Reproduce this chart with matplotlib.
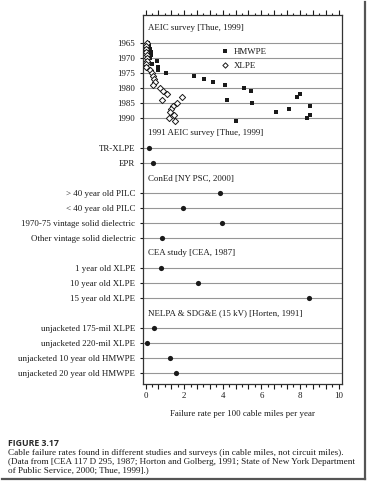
import numpy as np
import matplotlib
matplotlib.use("Agg")
import matplotlib.pyplot as plt
from matplotlib.lines import Line2D
from matplotlib.ticker import FixedLocator, FuncFormatter

plt.rcParams['font.family'] = ['Liberation Serif', 'DejaVu Serif']

# AEIC survey, failure rate by year of installation
years = np.arange(1965, 1992)
hmwpe = [0.15, 0.2, 0.25, 0.28, 0.3, 0.25, 0.61, 0.32, 0.66, 0.66, 1.06, 2.5, 3.03,
         3.5, 4.12, 5.12, 5.47, 8.0, 7.87, 4.2, 5.53, 8.52, 7.45, 6.74, 8.52, 8.35, 4.69]
xlpe = [0.08, 0.05, 0.03, 0.05, 0.07, 0.1, 0.06, 0.03, 0.02, 0.23, 0.32, 0.4, 0.44,
        0.49, 0.4, 0.75, 0.89, 1.13, 1.9, 0.84, 1.65, 1.44, 1.3, 1.27, 1.49, 1.2, 1.53]
year_labels = [1965, 1970, 1975, 1980, 1985, 1990]

aeic_title = "AEIC survey [Thue, 1999]"
group_titles = ["1991 AEIC survey [Thue, 1999]",
                "ConEd [NY PSC, 2000]",
                "CEA study [CEA, 1987]",
                "NELPA & SDG&E (15 kV) [Horten, 1991]"]
group_labels = [["TR-XLPE", "EPR"],
                ["> 40 year old PILC", "< 40 year old PILC",
                 "1970-75 vintage solid dielectric", "Other vintage solid dielectric"],
                ["1 year old XLPE", "10 year old XLPE", "15 year old XLPE"],
                ["unjacketed 175-mil XLPE", "unjacketed 220-mil XLPE",
                 "unjacketed 10 year old HMWPE", "unjacketed 20 year old HMWPE"]]
group_rates = [[0.18, 0.4],
               [3.86, 1.96, 3.98, 0.84],
               [0.79, 2.72, 8.49],
               [0.44, 0.09, 1.27, 1.58]]

# one row = 5 years in the survey part
def year_row(y):
    return (np.asarray(y) - 1965) / 5.0

W, H = 368, 484
fig = plt.figure(figsize=(W / 100, H / 100), dpi=100)
ax = fig.add_axes([143 / W, 1 - 384 / H, 199 / W, 369 / H])

ink = '#1a1a1a'
grid = '#969696'
fs = 6.4

tick_rows = list(year_row(year_labels))
tick_text = [str(y) for y in year_labels]
title_rows = []
dot_rows, dot_x = [], []
r = year_row(year_labels[-1])
for title, labels, rates in zip(group_titles, group_labels, group_rates):
    r += 1
    title_rows.append(r)
    for lab, val in zip(labels, rates):
        r += 1
        tick_rows.append(r)
        tick_text.append(lab)
        dot_rows.append(r)
        dot_x.append(val)

for tr in tick_rows:
    ax.axhline(tr, color=grid, lw=0.8, zorder=1)

ax.scatter(hmwpe, year_row(years), marker='s', s=10, color=ink, lw=0, zorder=3, label='HMWPE')
ax.scatter(xlpe, year_row(years), marker='D', s=10, facecolor='white', edgecolor=ink,
           lw=0.7, zorder=3, label='XLPE')
ax.scatter(dot_x, dot_rows, marker='o', s=14, color=ink, lw=0, zorder=3)

ax.text(0.13, -1.0, aeic_title, fontsize=fs, color=ink, va='center', ha='left')
for tr, title in zip(title_rows, group_titles):
    ax.text(0.13, tr, title, fontsize=fs, color=ink, va='center', ha='left')

leg = ax.legend(loc='upper left', bbox_to_anchor=(0.391, 0.912), frameon=False,
                fontsize=fs, handlelength=1.0, handletextpad=0.5, borderpad=0,
                borderaxespad=0, labelspacing=0.65, scatterpoints=1, markerscale=0.85)
for t in leg.get_texts():
    t.set_color(ink)

ax.set_xlim(-0.13, 10.18)
ax.set_ylim(22.7, -1.89)

major = np.arange(0, 10.01, 2 / 3)
minor = np.arange(1 / 3, 10.01, 2 / 3)
ax.xaxis.set_major_locator(FixedLocator(major))
ax.xaxis.set_minor_locator(FixedLocator(minor))
ax.xaxis.set_major_formatter(FuncFormatter(
    lambda v, p: "%d" % round(v) if abs(v - round(v)) < 1e-6 and round(v) % 2 == 0 else ""))
ax.tick_params(axis='x', which='major', direction='out', length=3.5, width=0.8,
               top=True, labelsize=fs, colors=ink, pad=2.5)
ax.tick_params(axis='x', which='minor', direction='out', length=1.8, width=0.8, top=True,
               colors=ink)

ax.set_yticks(tick_rows)
ax.set_yticklabels(tick_text)
ax.tick_params(axis='y', direction='out', length=2.5, width=0.8, labelsize=fs,
               colors=ink, pad=3)

for s in ax.spines.values():
    s.set_linewidth(0.9)
    s.set_color('#333333')

ax.set_xlabel("Failure rate per 100 cable miles per year", fontsize=fs, color=ink,
              labelpad=7)

fig.text(8 / W, 1 - 443 / H, "FIGURE 3.17", fontsize=6.3, weight='bold',
         family=['Open Sans', 'DejaVu Sans'], color='#2a2a2a', va='center')
caption = ["Cable failure rates found in different studies and surveys (in cable miles, not circuit miles).",
           "(Data from [CEA 117 D 295, 1987; Horton and Golberg, 1991; State of New York Department",
           "of Public Service, 2000; Thue, 1999].)"]
for i, line in enumerate(caption):
    fig.text(8 / W, 1 - (453 + 8.7 * i) / H, line, fontsize=6.6, color=ink, va='center')

# page shadow at right and bottom
fig.add_artist(Line2D([365 / W, 365 / W], [1 - 479 / H, 1 - 2 / H],
                      transform=fig.transFigure, color='#555555', lw=1.6))
fig.add_artist(Line2D([2 / W, 365 / W], [1 - 479 / H, 1 - 479 / H],
                      transform=fig.transFigure, color='#555555', lw=1.6))

fig.savefig("out.png", dpi=100)
